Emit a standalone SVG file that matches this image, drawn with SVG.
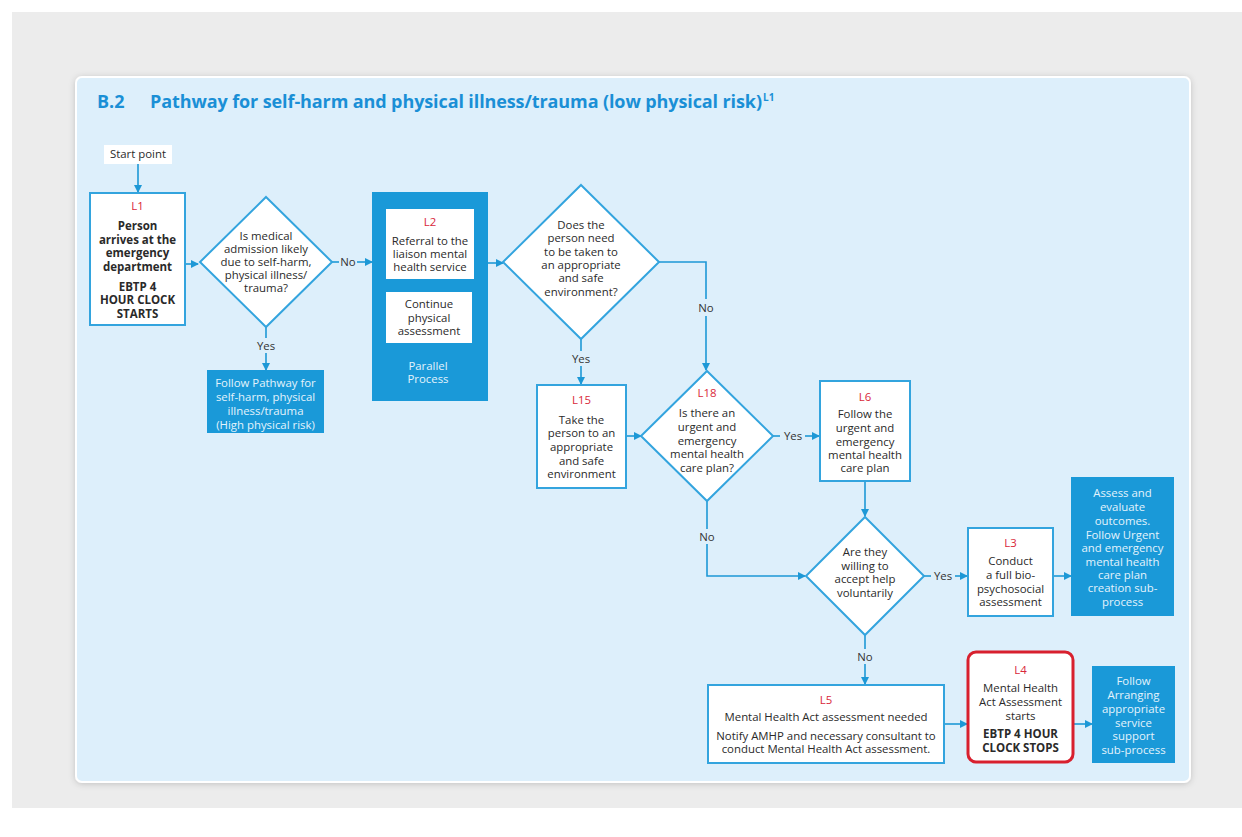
<svg xmlns="http://www.w3.org/2000/svg" width="1242" height="837" viewBox="0 0 1242 837">
  <style>
    .t { font-family: "Open Sans", "Noto Sans", "Liberation Sans", sans-serif; font-size: 11.4px; fill: #2a2a2a; text-anchor: middle; }
    .b { font-weight: 700; font-size: 11.5px; }
    .red { fill: #d9283a; }
    .wt { fill: #e3f3fc; }
    .box { fill: #fff; stroke: #33a4de; stroke-width: 2; }
    .blue { fill: #1a99d8; }
    .dia { fill: #fff; stroke: #33a4de; stroke-width: 2; }
    .ln { fill: none; stroke: #1d98d6; stroke-width: 1.6; }
    .lbl { font-family: "Open Sans", "Noto Sans", "Liberation Sans", sans-serif; font-size: 11.4px; fill: #333; text-anchor: middle; }
    .ttl { font-family: "Open Sans", "Noto Sans", "Liberation Sans", sans-serif; font-weight: 700; fill: #1a8fd6; }
  </style>
  <defs>
    <marker id="ah" markerWidth="8" markerHeight="8" refX="7" refY="4" orient="auto" markerUnits="userSpaceOnUse">
      <path d="M0,0 L8,4 L0,8 Z" fill="#1d98d6"/>
    </marker>
    <filter id="sh" x="-5%" y="-5%" width="110%" height="110%">
      <feDropShadow dx="0" dy="1" stdDeviation="3" flood-color="#000" flood-opacity="0.18"/>
    </filter>
  </defs>

  <!-- page -->
  <rect x="0" y="0" width="1242" height="837" fill="#fff"/>
  <rect x="12" y="12" width="1230" height="796" fill="#ececec"/>
  <rect x="76" y="77" width="1114" height="705" rx="6" fill="#ddeffb" stroke="#fff" stroke-width="2" filter="url(#sh)"/>

  <!-- heading -->
  <text class="ttl" x="97" y="108" font-size="18">B.2</text>
  <text class="ttl" x="150" y="108" font-size="18" textLength="612" lengthAdjust="spacing">Pathway for self-harm and physical illness/trauma (low physical risk)</text>
  <text class="ttl" x="763" y="101" font-size="10">L1</text>

  <!-- connectors -->
  <g id="connectors">
    <path class="ln" d="M138,163 V192" marker-end="url(#ah)"/>
    <path class="ln" d="M185,264 H198" marker-end="url(#ah)"/>
    <path class="ln" d="M332,262 H339"/>
    <path class="ln" d="M357,262 H372" marker-end="url(#ah)"/>
    <path class="ln" d="M266,327 V338"/>
    <path class="ln" d="M266,353 V370" marker-end="url(#ah)"/>
    <path class="ln" d="M488,263 H503" marker-end="url(#ah)"/>
    <path class="ln" d="M659,262 H706 V299"/>
    <path class="ln" d="M706,316 V370" marker-end="url(#ah)"/>
    <path class="ln" d="M581,339 V351"/>
    <path class="ln" d="M581,366 V384" marker-end="url(#ah)"/>
    <path class="ln" d="M626,436 H641" marker-end="url(#ah)"/>
    <path class="ln" d="M773,436 H780"/>
    <path class="ln" d="M805,436 H819" marker-end="url(#ah)"/>
    <path class="ln" d="M865,481 V516" marker-end="url(#ah)"/>
    <path class="ln" d="M707,501 V529"/>
    <path class="ln" d="M707,544 V576 H805" marker-end="url(#ah)"/>
    <path class="ln" d="M924,576 H931"/>
    <path class="ln" d="M955,576 H967" marker-end="url(#ah)"/>
    <path class="ln" d="M1053,576 H1071" marker-end="url(#ah)"/>
    <path class="ln" d="M865,635 V649"/>
    <path class="ln" d="M865,664 V684" marker-end="url(#ah)"/>
    <path class="ln" d="M944,724 H967" marker-end="url(#ah)"/>
    <path class="ln" d="M1073,724 H1092" marker-end="url(#ah)"/>
  </g>

  <!-- connector labels -->
  <g id="labels">
    <text class="lbl" x="348" y="266">No</text>
    <text class="lbl" x="266" y="350">Yes</text>
    <text class="lbl" x="706" y="312">No</text>
    <text class="lbl" x="581" y="363">Yes</text>
    <text class="lbl" x="793" y="440">Yes</text>
    <text class="lbl" x="707" y="541">No</text>
    <text class="lbl" x="943" y="580">Yes</text>
    <text class="lbl" x="865" y="661">No</text>
  </g>

  <g id="start">
    <rect x="104" y="145" width="68" height="19" fill="#fff"/>
    <text class="t" x="138" y="158">Start point</text>
  </g>

  <g id="L1">
    <rect class="box" x="90" y="193" width="95" height="132"/>
    <text class="t red" x="137.5" y="210">L1</text>
    <text class="t b" x="137.5" y="230">Person</text>
    <text class="t b" x="137.5" y="244">arrives at the</text>
    <text class="t b" x="137.5" y="257">emergency</text>
    <text class="t b" x="137.5" y="271">department</text>
    <text class="t b" x="137.5" y="291">EBTP 4</text>
    <text class="t b" x="137.5" y="304">HOUR CLOCK</text>
    <text class="t b" x="137.5" y="318">STARTS</text>
  </g>

  <g id="D1">
    <path class="dia" d="M266,197 L332,262 L266,327 L200,262 Z"/>
    <text class="t" x="266" y="240">Is medical</text>
    <text class="t" x="266" y="253">admission likely</text>
    <text class="t" x="266" y="266">due to self-harm,</text>
    <text class="t" x="266" y="279">physical illness/</text>
    <text class="t" x="266" y="292">trauma?</text>
  </g>

  <g id="high-risk">
    <rect class="blue" x="207" y="370" width="117" height="63"/>
    <text class="t wt" x="265.5" y="387">Follow Pathway for</text>
    <text class="t wt" x="265.5" y="401">self-harm, physical</text>
    <text class="t wt" x="265.5" y="415">illness/trauma</text>
    <text class="t wt" x="265.5" y="429">(High physical risk)</text>
  </g>

  <g id="parallel">
    <rect class="blue" x="372" y="192" width="116" height="209"/>
    <rect x="386" y="209" width="88" height="70" fill="#fff"/>
    <text class="t red" x="430" y="226">L2</text>
    <text class="t" x="430" y="245">Referral to the</text>
    <text class="t" x="430" y="258">liaison mental</text>
    <text class="t" x="430" y="271">health service</text>
    <rect x="386" y="292" width="86" height="51" fill="#fff"/>
    <text class="t" x="429" y="308">Continue</text>
    <text class="t" x="429" y="322">physical</text>
    <text class="t" x="429" y="335">assessment</text>
    <text class="t wt" x="428" y="370">Parallel</text>
    <text class="t wt" x="428" y="383">Process</text>
  </g>

  <g id="D2">
    <path class="dia" d="M581,185 L659,262 L581,339 L503,262 Z"/>
    <text class="t" x="581" y="229">Does the</text>
    <text class="t" x="581" y="242">person need</text>
    <text class="t" x="581" y="256">to be taken to</text>
    <text class="t" x="581" y="269">an appropriate</text>
    <text class="t" x="581" y="282">and safe</text>
    <text class="t" x="581" y="296">environment?</text>
  </g>

  <g id="L15">
    <rect class="box" x="537" y="385" width="89" height="103"/>
    <text class="t red" x="581.5" y="404">L15</text>
    <text class="t" x="581.5" y="424">Take the</text>
    <text class="t" x="581.5" y="437">person to an</text>
    <text class="t" x="581.5" y="451">appropriate</text>
    <text class="t" x="581.5" y="465">and safe</text>
    <text class="t" x="581.5" y="478">environment</text>
  </g>

  <g id="L18">
    <path class="dia" d="M707,371 L773,436 L707,501 L641,436 Z"/>
    <text class="t red" x="707" y="397">L18</text>
    <text class="t" x="707" y="417">Is there an</text>
    <text class="t" x="707" y="431">urgent and</text>
    <text class="t" x="707" y="445">emergency</text>
    <text class="t" x="707" y="458">mental health</text>
    <text class="t" x="707" y="472">care plan?</text>
  </g>

  <g id="L6">
    <rect class="box" x="820" y="381" width="90" height="100"/>
    <text class="t red" x="865" y="401">L6</text>
    <text class="t" x="865" y="418">Follow the</text>
    <text class="t" x="865" y="432">urgent and</text>
    <text class="t" x="865" y="446">emergency</text>
    <text class="t" x="865" y="459">mental health</text>
    <text class="t" x="865" y="472">care plan</text>
  </g>

  <g id="D3">
    <path class="dia" d="M865,517 L924,576 L865,635 L806,576 Z"/>
    <text class="t" x="865" y="556">Are they</text>
    <text class="t" x="865" y="570">willing to</text>
    <text class="t" x="865" y="583">accept help</text>
    <text class="t" x="865" y="597">voluntarily</text>
  </g>

  <g id="L3">
    <rect class="box" x="968" y="528" width="85" height="88"/>
    <text class="t red" x="1010.5" y="547">L3</text>
    <text class="t" x="1010.5" y="565">Conduct</text>
    <text class="t" x="1010.5" y="579">a full bio-</text>
    <text class="t" x="1010.5" y="593">psychosocial</text>
    <text class="t" x="1010.5" y="606">assessment</text>
  </g>

  <g id="assess">
    <rect class="blue" x="1071" y="477" width="103" height="139"/>
    <text class="t wt" x="1122.5" y="497">Assess and</text>
    <text class="t wt" x="1122.5" y="511">evaluate</text>
    <text class="t wt" x="1122.5" y="525">outcomes.</text>
    <text class="t wt" x="1122.5" y="539">Follow Urgent</text>
    <text class="t wt" x="1122.5" y="552">and emergency</text>
    <text class="t wt" x="1122.5" y="566">mental health</text>
    <text class="t wt" x="1122.5" y="579">care plan</text>
    <text class="t wt" x="1122.5" y="592">creation sub-</text>
    <text class="t wt" x="1122.5" y="606">process</text>
  </g>

  <g id="L5">
    <rect class="box" x="708" y="685" width="236" height="78"/>
    <text class="t red" x="826" y="704">L5</text>
    <text class="t" x="826" y="721">Mental Health Act assessment needed</text>
    <text class="t" x="826" y="740">Notify AMHP and necessary consultant to</text>
    <text class="t" x="826" y="753">conduct Mental Health Act assessment.</text>
  </g>

  <g id="L4">
    <rect x="968" y="652" width="105" height="110" rx="8" fill="#fff" stroke="#d8202e" stroke-width="3"/>
    <text class="t red" x="1020.5" y="674">L4</text>
    <text class="t" x="1020.5" y="692">Mental Health</text>
    <text class="t" x="1020.5" y="706">Act Assessment</text>
    <text class="t" x="1020.5" y="720">starts</text>
    <text class="t b" x="1020.5" y="738">EBTP 4 HOUR</text>
    <text class="t b" x="1020.5" y="752">CLOCK STOPS</text>
  </g>

  <g id="arranging">
    <rect class="blue" x="1092" y="666" width="83" height="97"/>
    <text class="t wt" x="1133.5" y="685">Follow</text>
    <text class="t wt" x="1133.5" y="699">Arranging</text>
    <text class="t wt" x="1133.5" y="713">appropriate</text>
    <text class="t wt" x="1133.5" y="727">service</text>
    <text class="t wt" x="1133.5" y="740">support</text>
    <text class="t wt" x="1133.5" y="754">sub-process</text>
  </g>
</svg>
